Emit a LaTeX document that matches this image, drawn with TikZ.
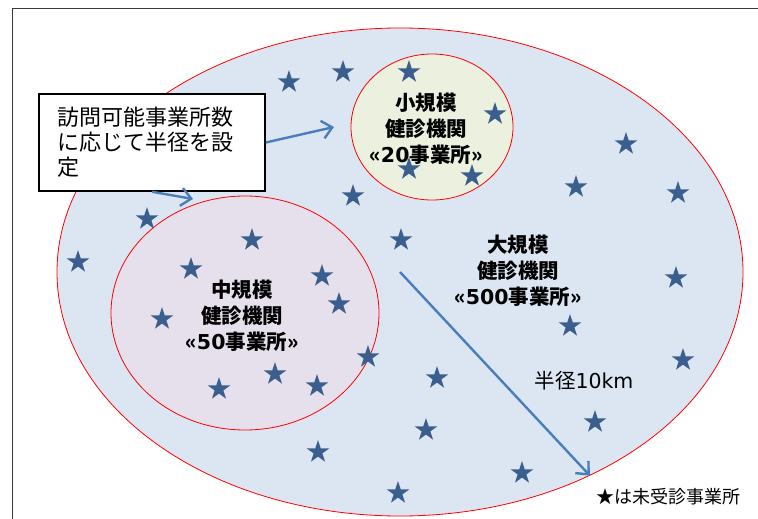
\documentclass[tikz,border=0pt]{standalone}
\usepackage{fontspec}
\setmainfont{Noto Sans CJK JP}
\newfontfamily\lat{DejaVu Sans}
\usetikzlibrary{shapes.geometric,arrows.meta}
\definecolor{bigfill}{HTML}{DCE6F2}
\definecolor{smallfill}{HTML}{EBF1DE}
\definecolor{midfill}{HTML}{E6E0EC}
\definecolor{starblue}{HTML}{3A5F8E}
\definecolor{arrowblue}{HTML}{4A7EBB}
\definecolor{framegray}{HTML}{3A3A3A}
\tikzset{
  area/.style={ellipse, draw=red, line width=0.8pt, inner sep=0pt},
  starnode/.style={star, star points=5, star point ratio=2.618, fill=starblue, draw=none, minimum size=24pt, inner sep=0pt},
  ptr/.style={draw=arrowblue, line width=2.4pt, -{Straight Barb[length=10pt,width=18pt,line width=2.4pt]}},
  lab/.style={font=\bfseries\fontsize{20.5}{26}\selectfont, align=center, inner sep=0pt},
  plain/.style={font=\fontsize{20.5}{24}\selectfont, inner sep=0pt}
}
\begin{document}
\begin{tikzpicture}[x=1pt,y=-1pt]
\useasboundingbox (0,0) rectangle (758,519);
\draw[framegray, line width=1.2pt] (12.5,519) -- (12.5,8.5) -- (758,8.5);
\node[area, fill=bigfill, minimum width=686pt, minimum height=488pt] (big) at (400,272) {};
\node[area, fill=midfill, minimum width=268pt, minimum height=234pt] (mid) at (245,313) {};
\node[area, fill=smallfill, minimum width=162pt, minimum height=146pt] (small) at (432,127) {};
\foreach \x/\y [count=\i] in {289/82,343/72,409/72,495/114,626/144,576/187,678/193,147/219,78/262,353/196,401/240,409/169,472/176,676/278,570/326,683/360,368/357,437/378,595/422,426/430,318/452,522/473,398/493,252/240,191/269,322/276,339/304,162/319,275/374,219/389,317/386}
  \node[starnode] (s\i) at (\x,\y) {};
\node[draw=black, line width=1.5pt, fill=white, minimum width=226pt, minimum height=97pt, text width=190pt, inner xsep=18pt, align=left, font=\fontsize{22}{25}\selectfont] (box) at (152,142.5) {訪問可能事業所数\\に応じて半径を設\\定};
\coordinate (tip1) at (334,127);
\coordinate (tip2) at (193,199);
\draw[ptr] (box.east) -- (tip1);
\draw[ptr] (box.south) -- (tip2);
\draw[ptr] (big.center) -- (big.-47.8);
\node[lab] (lsmall) at (426,129) {小規模\\健診機関\\«{\lat\bfseries 20}事業所»};
\node[lab] (lmid) at (242,316) {中規模\\健診機関\\«{\lat\bfseries 50}事業所»};
\node[lab] (lbig) at (518,271) {大規模\\健診機関\\«{\lat\bfseries 500}事業所»};
\node[plain] (radius) at (584,381) {半径{\lat 10km}};
\node[font=\fontsize{18}{20}\selectfont, inner sep=0pt] (legend) at (668,497) {★は未受診事業所};
\end{tikzpicture}
\end{document}
